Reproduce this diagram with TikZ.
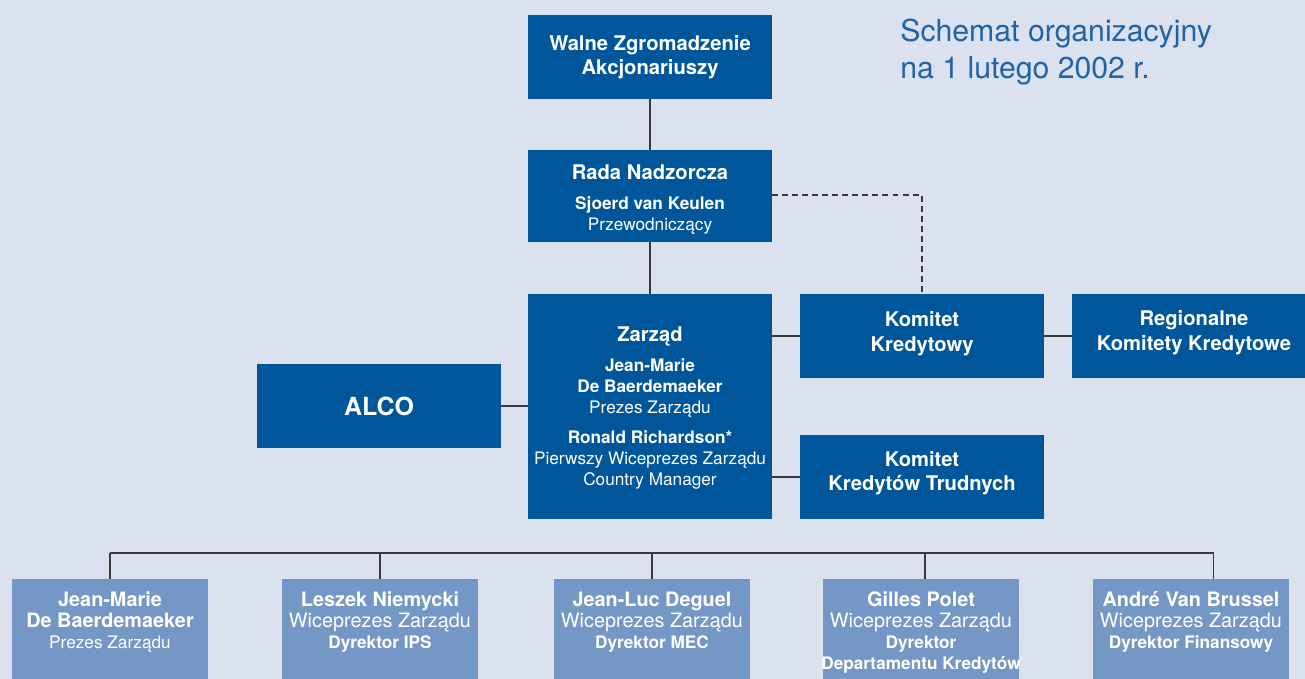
\documentclass[tikz,border=0pt]{standalone}
\usepackage{fontspec}
\setmainfont{TeX Gyre Heros}
\usepackage{tikz}
\usetikzlibrary{positioning,calc}
\definecolor{kbback}{HTML}{DCE1EF}
\definecolor{kbdark}{HTML}{00569A}
\definecolor{kblight}{HTML}{7597C6}
\definecolor{kbtitle}{HTML}{1E63A8}
\definecolor{kbline}{HTML}{3A3A3A}
% font sizes used in the boxes
\newcommand\kbhead{\fontsize{11.5}{14}\selectfont\bfseries}
\newcommand\kbname{\fontsize{9.8}{12}\selectfont\bfseries}
\newcommand\kbrole{\fontsize{9.8}{12}\selectfont}
\newcommand\kbbig{\fontsize{11.3}{13.6}\selectfont\bfseries}
\newcommand\kbbigrole{\fontsize{11.3}{13.6}\selectfont}
% struts to move a text block inside its box
\newcommand\kbtop[1]{\rule{0pt}{#1}}
\newcommand\kbbot[1]{\rule[-#1]{0pt}{#1}}

\begin{document}
\begin{tikzpicture}[x=0.02cm,y=-0.02cm,line cap=butt,
  text=white,
  unit/.style={fill=kbdark,inner sep=0pt,align=center,
    minimum width=4.88cm,minimum height=1.68cm},
  member/.style={fill=kblight,inner sep=0pt,anchor=north,
    minimum width=3.92cm,minimum height=2.3cm},
  memtext/.style={inner sep=0pt,anchor=north,align=center},
  link/.style={draw=kbline,line width=0.7pt},
  advise/.style={draw=kbline,line width=0.75pt,dash pattern=on 3.4pt off 2.3pt}]
\path[use as bounding box] (0,0) rectangle (1305,679);
\fill[kbback] (0,0) rectangle (1305,679);
\clip (0,0) rectangle (1305,679);

% naglowek
\node[text=kbtitle,anchor=north west,inner sep=0pt,align=left,
  font=\fontsize{17.2}{21}\selectfont] (title) at (900,19)
  {Schemat organizacyjny\\na 1 lutego 2002 r.};

% organy spolki
\node[unit] (walne) at (650,57) {{\kbhead Walne Zgromadzenie}\\[2pt]{\kbhead Akcjonariuszy}};
\node[unit,minimum height=1.84cm] (rada) at (650,196)
  {{\kbtop{13pt}\kbhead Rada Nadzorcza}\\[5pt]{\kbname Sjoerd van Keulen}\\{\kbrole Przewodniczący}};
\node[unit,minimum height=4.5cm] (zarzad) at (650,406.5)
  {{\kbtop{10.2pt}\kbhead Zarząd}\\[5pt]{\kbname Jean-Marie}\\{\kbname De Baerdemaeker}\\{\kbrole Prezes Zarządu}\\[5pt]
   {\kbname Ronald Richardson*}\\{\kbrole Pierwszy Wiceprezes Zarządu}\\{\kbrole Country Manager}};
\node[unit] (alco) at (379,406) {\fontsize{14.2}{16}\selectfont\bfseries ALCO};

% komitety
\node[unit] (komk) at (922,336) {{\kbhead Komitet}\\[2pt]{\kbhead Kredytowy\kbbot{5.2pt}}};
\node[unit] (reg) at (1194,336) {{\kbhead Regionalne}\\[2pt]{\kbhead Komitety Kredytowe\kbbot{6.4pt}}};
\node[unit] (komt) at (922,477) {{\kbhead Komitet}\\[2pt]{\kbhead Kredytów Trudnych\kbbot{6.9pt}}};

\draw[link] (walne) -- (rada);
\draw[link] (rada) -- (zarzad);
\draw[link] (alco.east) -- (alco.east -| zarzad.west);
\draw[link] (zarzad.east |- komk) -- (komk.west);
\draw[link] (komk) -- (reg);
\draw[link] (zarzad.east |- komt) -- (komt.west);
\draw[advise] ([yshift=0.5pt]rada.east) -| (komk.north);

% czlonkowie zarzadu
\node[member] (m1) at (110,579) {};
\node[member] (m2) at (380,579) {};
\node[member] (m3) at (652,579) {};
\node[member] (m4) at (921,579) {};
\node[member] (m5) at (1191,579) {};
\node[memtext] (t1) at (110,591.5)
  {{\kbbig Jean-Marie}\\{\kbbig De Baerdemaeker}\\{\kbrole Prezes Zarządu}};
\node[memtext] (t2) at (380,591.5)
  {{\kbbig Leszek Niemycki}\\{\kbbigrole Wiceprezes Zarządu}\\{\kbname Dyrektor IPS}};
\node[memtext] (t3) at (652,591.5)
  {{\kbbig Jean-Luc Deguel}\\{\kbbigrole Wiceprezes Zarządu}\\{\kbname Dyrektor MEC}};
\node[memtext] (t4) at (921,591.5)
  {{\kbbig Gilles Polet}\\{\kbbigrole Wiceprezes Zarządu}\\{\kbname Dyrektor}\\{\kbname Departamentu Kredytów}};
\node[memtext] (t5) at (1191,591.5)
  {{\kbbig André Van Brussel}\\{\kbbigrole Wiceprezes Zarządu}\\{\kbname Dyrektor Finansowy}};

% szyna laczaca
\coordinate (bus) at (0,553);
\draw[link] (m1.north |- bus) -- ([xshift=13pt]m5.north |- bus);
\draw[link] (m1.north) -- (m1.north |- bus);
\draw[link] (m2.north) -- (m2.north |- bus);
\draw[link] (m3.north) -- (m3.north |- bus);
\draw[link] ([xshift=2.3pt]m4.north) -- ([xshift=2.3pt]m4.north |- bus);
\draw[link] ([xshift=13pt]m5.north) -- ([xshift=13pt]m5.north |- bus);
\end{tikzpicture}
\end{document}
